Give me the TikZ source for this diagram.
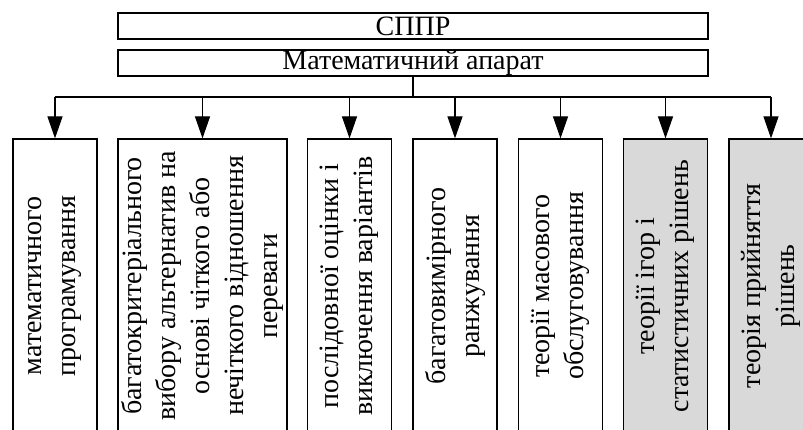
\documentclass[tikz,border=0pt]{standalone}
\usepackage{fontspec}
\setmainfont{Liberation Serif}
\usetikzlibrary{arrows.meta}

\begin{document}
\begin{tikzpicture}[x=1pt, y=-1pt, line width=1.2pt,
    >={Triangle[length=22pt, width=15pt]},
    topbox/.style={draw, minimum width=590pt, minimum height=26pt, inner sep=0pt},
    method/.style={draw, rotate=90, minimum width=294pt, minimum height=84pt,
      inner sep=0pt, align=center},
    shaded/.style={method, fill=black!15}]
    \fontsize{28}{34}\selectfont
    \useasboundingbox (0,0) rectangle (803,430);
    \clip (0,0) rectangle (803,430);
    %
    \node [topbox] (sppr) at (413,26) {СППР};
    \node [topbox] (mat) at (413,63) {Математичний апарат};
    \coordinate (bus) at (413,97);
    %
    \node [method] (b1) at (55,286) {математичного\\програмування};
    \node [method, minimum height=169pt] (b2) at (202.5,286)
      {багатокритеріального\\вибору альтернатив на\\основі чіткого або\\нечіткого відношення\\переваги};
    \node [method] (b3) at (349.5,286) {послідовної оцінки і\\виключення варіантів};
    \node [method] (b4) at (455,286) {багатовимірного\\ранжування};
    \node [method] (b5) at (560.5,286) {теорії масового\\обслуговування};
    \node [shaded] (b6) at (665.5,286) {теорії ігор і\\статистичних рішень};
    \node [shaded] (b7) at (771,286) {теорія прийняття\\рішень};
    %
    \draw (mat) -- (bus);
    \draw (bus -| b1.east) -- (bus -| b7.east);
    \draw [->] (bus -| b1.east) -- (b1.east);
    \draw [->] (bus -| b2.east) -- (b2.east);
    \draw [->] (bus -| b3.east) -- (b3.east);
    \draw [->] (bus -| b4.east) -- (b4.east);
    \draw [->] (bus -| b5.east) -- (b5.east);
    \draw [->] (bus -| b6.east) -- (b6.east);
    \draw [->] (bus -| b7.east) -- (b7.east);
\end{tikzpicture}
\end{document}
